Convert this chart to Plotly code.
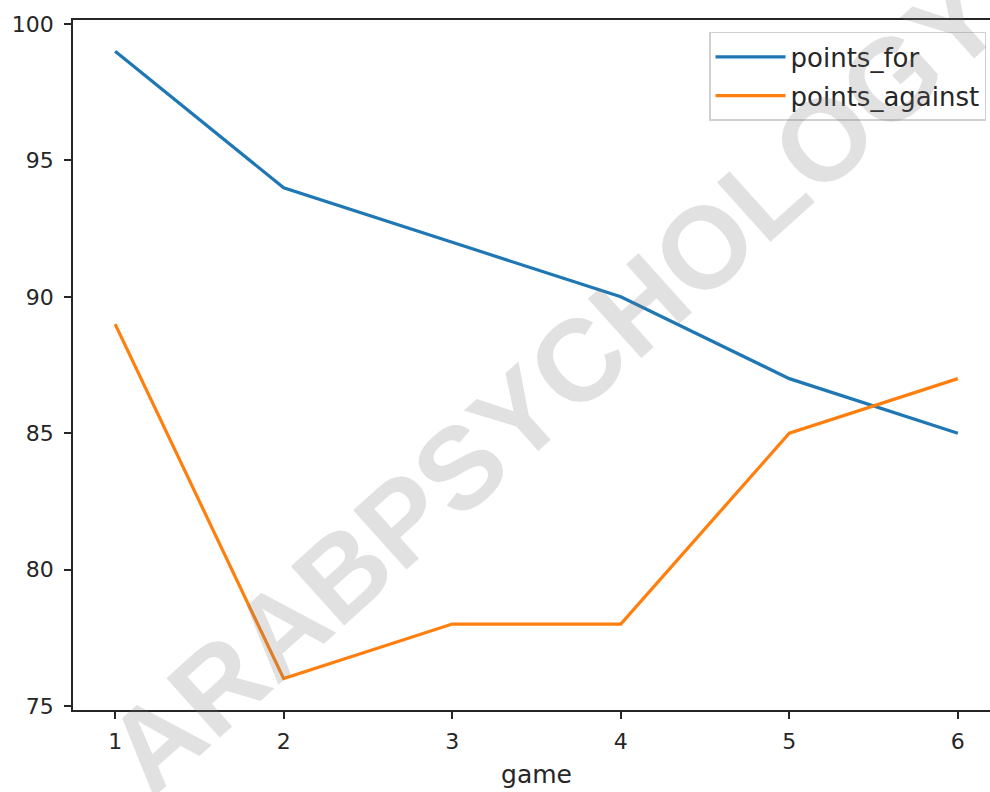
import plotly.graph_objects as go

game = [1, 2, 3, 4, 5, 6]
points_for = [99, 94, 92, 90, 87, 85]
points_against = [89, 76, 78, 78, 85, 87]
x_ticks = [1, 2, 3, 4, 5, 6]
y_ticks = [75, 80, 85, 90, 95, 100]

FONT = "DejaVu Sans"
TICK_FS = 22
LABEL_FS = 25
INK = "#262626"

# The reference is a crop: its plot frame runs on past the right edge of the picture.
FIG_W, FIG_H = 1010, 792
L, R, T, B = 73, 8, 20, 79
PW = FIG_W - L - R
PH = FIG_H - T - B

fig = go.Figure()
fig.add_trace(go.Scatter(x=game, y=points_for, mode="lines", name="points_for",
                         legendgroup="a", line=dict(color="#1f77b4", width=3.2)))
fig.add_trace(go.Scatter(x=game, y=points_against, mode="lines", name="points_against",
                         legendgroup="b", line=dict(color="#ff7f0e", width=3.2)))

fig.add_annotation(text="<b>ARABPSYCHOLOGY</b>", xref="paper", yref="paper",
                   x=(555 - L) / PW, y=1 - (385 - T) / PH, xanchor="center", yanchor="middle",
                   showarrow=False, textangle=-42,
                   font=dict(family="Liberation Sans", size=116, color="rgba(120,120,120,0.22)"))

fig.update_layout(
    width=FIG_W, height=FIG_H,
    margin=dict(l=L, r=R, t=T, b=B),
    paper_bgcolor="white", plot_bgcolor="white",
    font=dict(family=FONT, size=TICK_FS, color=INK),
    showlegend=True,
    legend=dict(x=(988 - L) / PW, xanchor="right", y=1 - (32 - T) / PH, yanchor="top",
                bgcolor="rgba(255,255,255,0.8)", bordercolor="#d0d0d0", borderwidth=1.5,
                font=dict(family=FONT, size=26, color=INK),
                tracegroupgap=2, itemwidth=70),
)
fig.update_xaxes(range=[0.75, 6.25], tickmode="array", tickvals=x_ticks,
                 ticks="outside", ticklen=7, tickwidth=1.6, tickcolor=INK,
                 showline=True, linecolor=INK, linewidth=1.7, mirror=True,
                 showgrid=False, zeroline=False, ticklabelstandoff=4,
                 title=dict(text="game", standoff=12, font=dict(family=FONT, size=LABEL_FS)))
fig.update_yaxes(range=[74.85, 100.15], tickmode="array", tickvals=y_ticks,
                 ticks="outside", ticklen=7, tickwidth=1.6, tickcolor=INK,
                 showline=True, linecolor=INK, linewidth=1.7, mirror=True,
                 showgrid=False, zeroline=False, ticklabelstandoff=6)

fig.write_html("out.html", config={"displayModeBar": False},
               post_script="document.body.style.margin='0';document.body.style.overflow='hidden';"
                           "document.documentElement.style.overflow='hidden';")
